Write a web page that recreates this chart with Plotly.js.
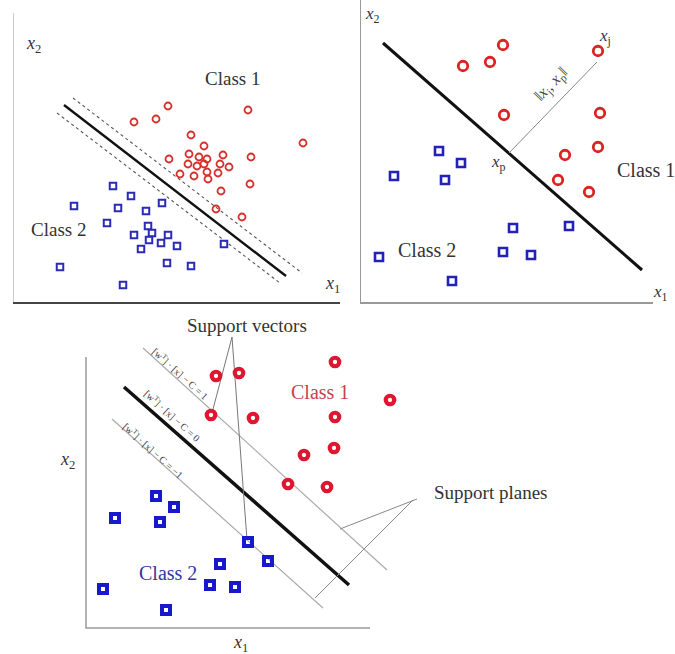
<!DOCTYPE html>
<html>
<head>
<meta charset="utf-8">
<script src="https://cdn.plot.ly/plotly-3.0.1.min.js"></script>
<style>html,body{margin:0;padding:0;background:#fff;}#chart{width:675px;height:654px;}</style>
</head>
<body>
<div id="chart"></div>
<script>
// ---------- Panel 1 (top-left): many points, margin band ----------
const p1RedX = [154,234,120,142,177,190,289,155,175,185,193,209,237,174,183,190,206,215,166,180,194,193,204,236,207,202,228];
const p1RedY = [196,192,180,183,167,156,159,143,148,145,143,147,145,138,136,138,138,135,128,126,123,130,129,118,111,93,85];
const p1BlueX = [99,117,60,104,132,148,93,134,138,120,135,147,154,163,127,210,46,153,177,109];
const p1BlueY = [116,106,96,94,91,99,79,76,69,67,62,59,67,56,53,58,35,39,36,17];
const p1HyperX = [50,272];
const p1HyperY = [197,26];
const p1UpperX = [59,288];
const p1UpperY = [204,29];
const p1LowerX = [43,266];
const p1LowerY = [189,19];

// ---------- Panel 2 (top-right): distance to hyperplane ----------
const p2RedX = [142,102,129,237,301,143,239,237,204,197,228];
const p2RedY = [257,236,240,251,209,187,189,155,147,122,110];
const p2BlueX = [78,100,33,84,152,208,142,170,18,91];
const p2BlueY = [151,139,126,122,74,76,50,47,45,21];
const p2HyperX = [22,281];
const p2HyperY = [259,32];
const p2DistX = [148,236];
const p2DistY = [149,240];

// ---------- Panel 3 (bottom): support vectors and planes ----------
const p3RedX = [130,153,125,167,249,304,249,248,218,202,241];
const p3RedY = [252,255,213,210,266,228,211,180,173,144,141];
const p3BlueX = [70,88,29,74,162,182,134,124,149,17,80];
const p3BlueY = [132,121,110,106,86,67,64,43,41,39,18];
const p3AxesX = [284,0,0];
const p3AxesY = [0,0,271];
const p3HyperX = [38,263];
const p3HyperY = [241,43];
const p3UpperX = [57,301];
const p3UpperY = [280,58];
const p3LowerX = [26,237];
const p3LowerY = [209,20];
const p3SvLead1X = [146,126];
const p3SvLead1Y = [291,215];
const p3SvLead2X = [146,161];
const p3SvLead2Y = [291,88];
const p3SpLead1X = [331,254];
const p3SpLead1Y = [129,99];
const p3SpLead2X = [327,229];
const p3SpLead2Y = [128,30];

const serif = 'Liberation Serif, Times New Roman, serif';
const txt = '#333333';

function pts(x, y, ax, ay, sym, size, color, lw) {
  return {x: x, y: y, xaxis: ax, yaxis: ay, type: 'scatter', mode: 'markers', cliponaxis: false,
    marker: {symbol: sym, size: size, color: color, line: {color: color, width: lw}}, hoverinfo: 'skip'};
}
function ln(x, y, ax, ay, color, width, dash) {
  return {x: x, y: y, xaxis: ax, yaxis: ay, type: 'scatter', mode: 'lines', cliponaxis: false,
    line: {color: color, width: width, dash: dash || 'solid'}, hoverinfo: 'skip'};
}

const data = [
  // panel 1
  ln(p1UpperX, p1UpperY, 'x', 'y', '#555', 1.1, 'dot'),
  ln(p1LowerX, p1LowerY, 'x', 'y', '#555', 1.1, 'dot'),
  ln(p1HyperX, p1HyperY, 'x', 'y', '#111', 2.4),
  pts(p1RedX, p1RedY, 'x', 'y', 'circle-open', 7, '#d6302c', 1.8),
  pts(p1BlueX, p1BlueY, 'x', 'y', 'square-open', 6.5, '#2b2bb5', 2),
  // panel 2
  ln(p2HyperX, p2HyperY, 'x2', 'y2', '#111', 3),
  ln(p2DistX, p2DistY, 'x2', 'y2', '#888', 1),
  pts(p2RedX, p2RedY, 'x2', 'y2', 'circle-open', 9.5, '#dd2222', 2.8),
  pts(p2BlueX, p2BlueY, 'x2', 'y2', 'square-open', 8, '#2222bb', 2.6),
  // panel 3
  ln(p3AxesX, p3AxesY, 'x3', 'y3', '#9a9a9a', 1.5),
  ln(p3UpperX, p3UpperY, 'x3', 'y3', '#aaaaaa', 1.2),
  ln(p3LowerX, p3LowerY, 'x3', 'y3', '#aaaaaa', 1.2),
  ln(p3HyperX, p3HyperY, 'x3', 'y3', '#111', 3.5),
  ln(p3SvLead1X, p3SvLead1Y, 'x3', 'y3', '#777', 1),
  ln(p3SvLead2X, p3SvLead2Y, 'x3', 'y3', '#777', 1),
  ln(p3SpLead1X, p3SpLead1Y, 'x3', 'y3', '#888', 1),
  ln(p3SpLead2X, p3SpLead2Y, 'x3', 'y3', '#888', 1),
  pts(p3RedX, p3RedY, 'x3', 'y3', 'circle-open', 8.5, '#e01530', 4.2),
  pts(p3BlueX, p3BlueY, 'x3', 'y3', 'square-open', 8, '#1818cc', 4)
];

function ann(text, x, y, xref, yref, size, color, extra) {
  return Object.assign({text: text, x: x, y: y, xref: xref, yref: yref, showarrow: false,
    xanchor: 'center', yanchor: 'middle', font: {family: serif, size: size, color: color || txt}}, extra || {});
}

const annotations = [
  // panel 1
  ann('<i>x</i><sub>2</sub>', 19, 257, 'x', 'y', 18),
  ann('Class 1', 218, 223, 'x', 'y', 19),
  ann('Class 2', 44, 72, 'x', 'y', 19),
  ann('<i>x</i><sub>1</sub>', 318, 17, 'x', 'y', 18),
  // panel 2
  ann('<i>x</i><sub>2</sub>', 11, 287, 'x2', 'y2', 17),
  ann('<i>x</i><sub>j</sub>', 244, 265, 'x2', 'y2', 17),
  ann('<i>x</i><sub>p</sub>', 137, 139, 'x2', 'y2', 17),
  ann('Class 1', 254, 132, 'x2', 'y2', 20, txt, {xanchor: 'left'}),
  ann('Class 2', 66, 52, 'x2', 'y2', 20),
  ann('‖<i>x</i><sub>j</sub>, <i>x</i><sub>p</sub>‖', 190, 218, 'x2', 'y2', 16, '#444', {textangle: -46}),
  ann('<i>x</i><sub>1</sub>', 0.978, 0.552, 'paper', 'paper', 17),
  // panel 3
  ann('<i>x</i><sub>2</sub>', -19, 168, 'x3', 'y3', 18),
  ann('<i>x</i><sub>1</sub>', 154, -15, 'x3', 'y3', 18),
  ann('Support vectors', 161, 303, 'x3', 'y3', 19),
  ann('Support planes', 404, 136, 'x3', 'y3', 19),
  ann('Class 1', 234, 236, 'x3', 'y3', 20, '#c8404c'),
  ann('Class 2', 82, 55, 'x3', 'y3', 20, '#3535a5'),
  ann('[w<sup>T</sup>] · [x] − C = 1', 94, 255, 'x3', 'y3', 10, '#444', {textangle: 42}),
  ann('[w<sup>T</sup>] · [x] − C = 0', 86, 213, 'x3', 'y3', 10, '#444', {textangle: 42}),
  ann('[w<sup>T</sup>] · [x] − C = −1', 67, 178, 'x3', 'y3', 10, '#444', {textangle: 42})
];

function axis(domain, range, showline, color, width) {
  return {domain: domain, range: range, showgrid: false, zeroline: false, showticklabels: false,
    ticks: '', showline: showline, linecolor: color || '#999', linewidth: width || 1, fixedrange: true};
}

const layout = {
  width: 675, height: 654,
  margin: {l: 0, r: 0, t: 0, b: 0},
  paper_bgcolor: '#ffffff', plot_bgcolor: 'rgba(0,0,0,0)',
  showlegend: false,
  xaxis: axis([14/675, 340/675], [0, 326], true, '#444', 2),
  yaxis: axis([(654-302)/654, (654-13)/654], [0, 289], true, '#cccccc', 1),
  xaxis2: axis([361/675, 653/675], [0, 292], true, '#999', 1.8),
  yaxis2: axis([(654-302)/654, 1], [0, 302], true, '#999', 1.5),
  xaxis3: axis([50/675, 560/675], [-36, 474], false),
  yaxis3: axis([0, (654-315)/654], [-26, 313], false),
  annotations: annotations
};
layout.xaxis2.anchor = 'y2';
layout.yaxis2.anchor = 'x2';
layout.xaxis3.anchor = 'y3';
layout.yaxis3.anchor = 'x3';

Plotly.newPlot('chart', data, layout, {staticPlot: true, displayModeBar: false});
</script>
</body>
</html>
